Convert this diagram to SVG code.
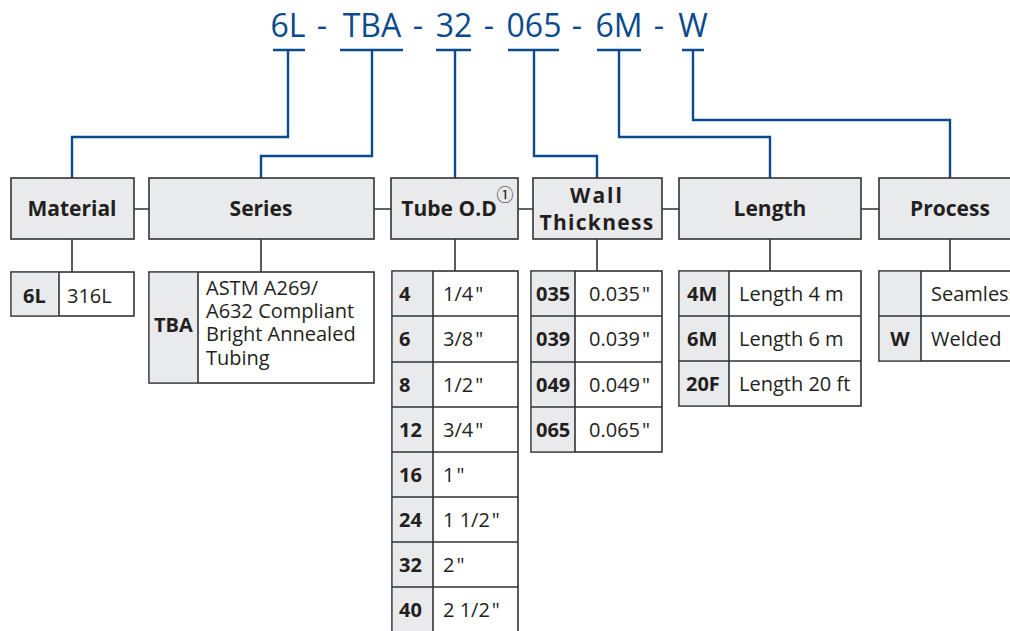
<svg xmlns="http://www.w3.org/2000/svg" width="1010" height="631" viewBox="0 0 1010 631">
<style>
.code{font-family:"Open Sans","Liberation Sans",sans-serif;font-size:32px;fill:#0b4a8c}
.hdr{fill:#e9eaec;stroke:#333;stroke-width:1.6}
.cell{fill:#fff;stroke:#333;stroke-width:1.6}
.gcell{fill:#e9eaec;stroke:none}
.ht{font-family:"Open Sans","Liberation Sans",sans-serif;font-size:21px;font-weight:bold;fill:#231f20;text-anchor:middle}
.b{font-family:"Open Sans","Liberation Sans",sans-serif;font-size:20px;font-weight:bold;fill:#231f20}
.r{font-family:"Open Sans","Liberation Sans",sans-serif;font-size:20px;fill:#231f20}
.blue{fill:none;stroke:#0b4a8c;stroke-width:2.4}
.gray{fill:none;stroke:#333;stroke-width:1.6}
</style>
<rect width="1010" height="631" fill="#fff"/>
<g id="partcode">
<text class="code" x="288" y="37" text-anchor="middle">6L</text>
<text class="code" x="322" y="37" text-anchor="middle">-</text>
<text class="code" x="372" y="37" text-anchor="middle">TBA</text>
<text class="code" x="418" y="37" text-anchor="middle">-</text>
<text class="code" x="454" y="37" text-anchor="middle">32</text>
<text class="code" x="489" y="37" text-anchor="middle">-</text>
<text class="code" x="534" y="37" text-anchor="middle">065</text>
<text class="code" x="577" y="37" text-anchor="middle">-</text>
<text class="code" x="619" y="37" text-anchor="middle">6M</text>
<text class="code" x="659" y="37" text-anchor="middle">-</text>
<text class="code" x="693" y="37" text-anchor="middle">W</text>
</g>
<g id="connectors">
<path class="blue" d="M273 50H305M340 50H403M436 50H471M508 50H559M597 50H641M682 50H704"/>
<path class="blue" d="M288 50V137H72V178"/>
<path class="blue" d="M372 50V156H261V178"/>
<path class="blue" d="M455 50V178"/>
<path class="blue" d="M534 50V156H597V178"/>
<path class="blue" d="M619 50V137H770V178"/>
<path class="blue" d="M693 50V120H950V178"/>
<path class="gray" d="M134 209H149M374 209H391M518 209H533M662 209H679M861 209H879"/>
<path class="gray" d="M72 239V272M261 239V272M455 239V271M597 239V271M770 239V271M950 239V271"/>
</g>
<g id="material">
<rect class="hdr" x="11" y="178" width="123" height="61"/>
<text class="ht" x="72" y="216">Material</text>
<rect class="cell" x="11" y="272" width="123" height="44"/>
<rect class="gcell" x="11.8" y="272.8" width="47" height="42.4"/>
<path class="gray" d="M59 272V316"/>
<text class="b" x="23" y="303">6L</text>
<text class="r" x="67" y="303">316L</text>
</g>
<g id="series">
<rect class="hdr" x="149" y="178" width="225" height="61"/>
<text class="ht" x="261" y="216">Series</text>
<rect class="cell" x="149" y="272" width="225" height="111"/>
<rect class="gcell" x="149.8" y="272.8" width="48" height="109.4"/>
<path class="gray" d="M198 272V383"/>
<text class="b" x="154" y="332">TBA</text>
<text class="r" x="206" y="295">ASTM A269/</text>
<text class="r" x="206" y="318">A632 Compliant</text>
<text class="r" x="206" y="341">Bright Annealed</text>
<text class="r" x="206" y="365">Tubing</text>
</g>
<g id="tube-od">
<rect class="hdr" x="391" y="178" width="127" height="61"/>
<text class="ht" x="449" y="216">Tube O.D</text>
<text x="505" y="201" font-family="'Noto Sans CJK JP','DejaVu Sans',sans-serif" font-size="17" fill="#231f20" text-anchor="middle">①</text>
<rect class="cell" x="392" y="271" width="126" height="370"/>
<rect class="gcell" x="392.8" y="271.8" width="40" height="368"/>
<path class="gray" d="M433 271V640M392 316H518M392 362H518M392 407H518M392 452H518M392 497H518M392 542H518M392 587H518"/>
<g class="b">
<text x="399" y="301">4</text>
<text x="399" y="346">6</text>
<text x="399" y="392">8</text>
<text x="399" y="437">12</text>
<text x="399" y="482">16</text>
<text x="399" y="527">24</text>
<text x="399" y="572">32</text>
<text x="399" y="617">40</text>
</g>
<g class="r">
<text x="443" y="301">1/4<tspan dx="2">"</tspan></text>
<text x="443" y="346">3/8<tspan dx="2">"</tspan></text>
<text x="443" y="392">1/2<tspan dx="2">"</tspan></text>
<text x="443" y="437">3/4<tspan dx="2">"</tspan></text>
<text x="443" y="482">1<tspan dx="2">"</tspan></text>
<text x="443" y="527">1 1/2<tspan dx="2">"</tspan></text>
<text x="443" y="572">2<tspan dx="2">"</tspan></text>
<text x="443" y="617">2 1/2<tspan dx="2">"</tspan></text>
</g>
</g>
<g id="wall-thickness">
<rect class="hdr" x="533" y="178" width="129" height="61"/>
<text class="ht" x="597" y="203" letter-spacing="2">Wall</text>
<text class="ht" x="597" y="230" letter-spacing="1.3">Thickness</text>
<rect class="cell" x="531" y="271" width="131" height="181"/>
<rect class="gcell" x="531.8" y="271.8" width="43" height="179.4"/>
<path class="gray" d="M575 271V452M531 316H662M531 362H662M531 407H662"/>
<g class="b">
<text x="536" y="301">035</text>
<text x="536" y="346">039</text>
<text x="536" y="392">049</text>
<text x="536" y="437">065</text>
</g>
<g class="r">
<text x="589" y="301">0.035<tspan dx="2">"</tspan></text>
<text x="589" y="346">0.039<tspan dx="2">"</tspan></text>
<text x="589" y="392">0.049<tspan dx="2">"</tspan></text>
<text x="589" y="437">0.065<tspan dx="2">"</tspan></text>
</g>
</g>
<g id="length">
<rect class="hdr" x="679" y="178" width="182" height="61"/>
<text class="ht" x="770" y="216">Length</text>
<rect class="cell" x="679" y="271" width="182" height="135"/>
<rect class="gcell" x="679.8" y="271.8" width="49" height="133.4"/>
<path class="gray" d="M729 271V406M679 316H861M679 361H861"/>
<g class="b">
<text x="687" y="301">4M</text>
<text x="687" y="346">6M</text>
<text x="686" y="391">20F</text>
</g>
<g class="r">
<text x="739" y="301">Length 4 m</text>
<text x="739" y="346">Length 6 m</text>
<text x="739" y="391">Length 20 ft</text>
</g>
</g>
<g id="process">
<rect class="hdr" x="879" y="178" width="150" height="61"/>
<text class="ht" x="950" y="216">Process</text>
<rect class="cell" x="879" y="271" width="150" height="90"/>
<rect class="gcell" x="879.8" y="271.8" width="41" height="88.4"/>
<path class="gray" d="M921 271V361M879 316H1029"/>
<text class="b" x="900" y="346" text-anchor="middle">W</text>
<text class="r" x="931" y="301">Seamless</text>
<text class="r" x="931" y="346">Welded</text>
</g>
</svg>
